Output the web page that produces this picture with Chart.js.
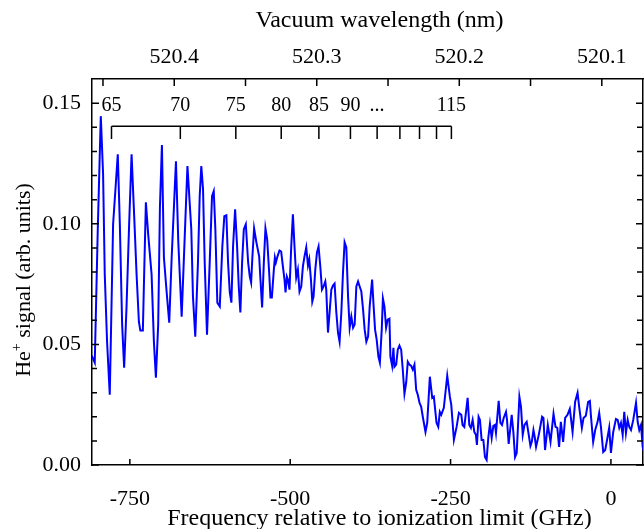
<!DOCTYPE html>
<html>
<head>
<meta charset="utf-8">
<script src="https://cdn.jsdelivr.net/npm/chart.js@4/dist/chart.umd.min.js"></script>
<style>
  html, body { margin: 0; padding: 0; background: #fff; }
  #wrap { width: 644px; height: 529px; position: relative; }
</style>
</head>
<body>
<div id="wrap"><canvas id="chart_heSignalSpectrum"></canvas></div>
<script>
// He+ signal vs frequency
const freqGHz = [
  -809.4, -804.7, -800.0, -795.3, -791.7, -789.1, -785.5, -781.3, -776.1, -771.9,
  -768.8, -765.6, -762.0, -758.9, -755.2, -751.1, -747.3, -743.8, -739.5, -735.9,
  -733.6, -729.7, -727.7, -725.0, -721.4, -716.1, -712.5, -709.4, -705.8, -703.1,
  -700.0, -696.9, -692.7, -688.6, -684.8, -681.3, -678.1, -674.5, -669.2, -663.0,
  -660.2, -654.2, -651.6, -648.0, -643.8, -641.1, -638.6, -635.9, -633.3, -629.7,
  -625.5, -621.9, -619.2, -616.7, -613.6, -609.8, -605.8, -602.7, -599.5, -596.9,
  -594.2, -591.7, -589.1, -585.9, -582.8, -580.2, -577.7, -575.0, -572.3, -569.2,
  -565.6, -563.0, -560.9, -558.9, -556.3, -552.7, -548.4, -546.4, -543.8, -541.1,
  -538.6, -535.9, -532.8, -530.8, -528.6, -525.5, -523.9, -522.3, -519.8, -516.7,
  -514.1, -511.4, -508.9, -507.3, -505.2, -503.6, -501.1, -498.4, -495.8, -493.3,
  -490.6, -488.0, -485.5, -482.8, -480.2, -477.7, -475.0, -472.3, -470.3, -467.7,
  -465.6, -463.6, -460.9, -458.3, -455.8, -453.1, -450.5, -448.0, -445.3, -443.8,
  -441.1, -438.6, -435.9, -433.3, -430.8, -428.1, -425.5, -423.0, -420.3, -417.7,
  -415.2, -412.5, -409.8, -407.3, -404.7, -402.0, -399.5, -396.9, -394.2, -391.7,
  -389.1, -386.4, -383.9, -381.3, -378.6, -376.1, -372.3, -370.3, -367.7, -365.2,
  -362.5, -360.2, -357.3, -355.5, -353.1, -350.5, -348.0, -345.3, -343.8, -341.1,
  -339.1, -337.5, -334.8, -332.3, -329.7, -327.0, -324.5, -321.9, -319.2, -316.7,
  -314.1, -311.4, -308.9, -306.3, -303.6, -301.1, -298.4, -295.8, -293.3, -289.1,
  -286.4, -282.3, -278.6, -276.1, -271.9, -269.2, -266.7, -264.5, -260.5, -255.2,
  -251.1, -248.9, -244.8, -240.6, -237.0, -233.3, -231.3, -228.6, -223.4, -220.8,
  -218.3, -215.6, -213.0, -210.5, -208.9, -206.3, -204.2, -201.6, -198.9, -196.4,
  -193.8, -191.1, -188.6, -185.9, -183.3, -180.8, -179.2, -175.0, -172.3, -169.8,
  -167.2, -163.6, -162.0, -159.4, -154.7, -152.0, -149.5, -146.9, -142.7, -140.2,
  -137.5, -134.8, -131.3, -128.6, -125.5, -123.4, -120.8, -118.8, -116.7, -112.5,
  -107.3, -105.2, -102.7, -98.4, -94.2, -89.5, -86.4, -83.6, -80.8, -78.1,
  -74.5, -71.4, -67.7, -64.1, -59.8, -55.8, -52.0, -49.5, -45.3, -42.7,
  -39.1, -35.5, -32.8, -31.3, -27.7, -24.5, -20.8, -18.3, -15.6, -12.0,
  -8.9, -5.2, -2.7, 0.0, 3.6, 7.8, 10.5, 13.0, 15.6, 18.3,
  20.8, 23.4, 26.1, 28.6, 31.3, 34.8, 39.1, 41.7, 44.2, 46.9,
  49.5, 52.0
];
const heSignal = [
  0.0453, 0.0424, 0.0977, 0.1446, 0.1205, 0.0790, 0.0511, 0.0291, 0.0998, 0.1164,
  0.1288, 0.0998, 0.0582, 0.0403, 0.0653, 0.0998, 0.1288, 0.1068, 0.0790, 0.0594,
  0.0557, 0.0557, 0.0790, 0.1089, 0.0956, 0.0790, 0.0511, 0.0362, 0.0582, 0.1068,
  0.1326, 0.0860, 0.0719, 0.0590, 0.0860, 0.1068, 0.1259, 0.0927, 0.0615, 0.1047,
  0.1239, 0.0977, 0.0698, 0.0532, 0.0840, 0.1114, 0.1239, 0.1143, 0.0840, 0.0540,
  0.0840, 0.1114, 0.1135, 0.0977, 0.0673, 0.0657, 0.0906, 0.1031, 0.1035, 0.0840,
  0.0715, 0.0673, 0.0906, 0.1060, 0.0906, 0.0740, 0.0632, 0.0840, 0.0977, 0.0998,
  0.0840, 0.0781, 0.0756, 0.0865, 0.0981, 0.0923, 0.0865, 0.0769, 0.0653, 0.0840,
  0.0981, 0.0935, 0.0798, 0.0694, 0.0694, 0.0810, 0.0860, 0.0840, 0.0865, 0.0889,
  0.0885, 0.0823, 0.0769, 0.0715, 0.0781, 0.0769, 0.0727, 0.0906, 0.1039, 0.0906,
  0.0777, 0.0810, 0.0719, 0.0740, 0.0823, 0.0865, 0.0902, 0.0827, 0.0852, 0.0769,
  0.0677, 0.0698, 0.0810, 0.0881, 0.0906, 0.0823, 0.0727, 0.0740, 0.0761, 0.0727,
  0.0549, 0.0632, 0.0727, 0.0744, 0.0752, 0.0632, 0.0549, 0.0511, 0.0632, 0.0798,
  0.0923, 0.0902, 0.0698, 0.0569, 0.0615, 0.0569, 0.0582, 0.0740, 0.0761, 0.0740,
  0.0719, 0.0644, 0.0561, 0.0511, 0.0532, 0.0657, 0.0769, 0.0673, 0.0561, 0.0520,
  0.0449, 0.0424, 0.0561, 0.0690, 0.0657, 0.0569, 0.0603, 0.0607, 0.0449, 0.0411,
  0.0486, 0.0407, 0.0416, 0.0478, 0.0495, 0.0478, 0.0395, 0.0295, 0.0341, 0.0428,
  0.0416, 0.0411, 0.0395, 0.0416, 0.0312, 0.0291, 0.0258, 0.0241, 0.0200, 0.0137,
  0.0175, 0.0366, 0.0278, 0.0283, 0.0175, 0.0158, 0.0220, 0.0208, 0.0237, 0.0370,
  0.0283, 0.0249, 0.0104, 0.0158, 0.0216, 0.0208, 0.0166, 0.0158, 0.0278, 0.0166,
  0.0154, 0.0187, 0.0137, 0.0125, 0.0083, 0.0200, 0.0187, 0.0104, 0.0104, 0.0033,
  0.0021, 0.0116, 0.0170, 0.0112, 0.0162, 0.0166, 0.0133, 0.0266, 0.0175, 0.0166,
  0.0195, 0.0220, 0.0187, 0.0087, 0.0208, 0.0133, 0.0033, 0.0050, 0.0283, 0.0241,
  0.0125, 0.0166, 0.0179, 0.0133, 0.0079, 0.0096, 0.0145, 0.0116, 0.0075, 0.0125,
  0.0200, 0.0195, 0.0062, 0.0166, 0.0096, 0.0212, 0.0158, 0.0154, 0.0075, 0.0179,
  0.0096, 0.0195, 0.0208, 0.0233, 0.0137, 0.0262, 0.0299, 0.0241, 0.0154, 0.0195,
  0.0204, 0.0262, 0.0266, 0.0208, 0.0096, 0.0145, 0.0179, 0.0216, 0.0158, 0.0054,
  0.0062, 0.0116, 0.0154, 0.0050, 0.0137, 0.0191, 0.0187, 0.0154, 0.0175, 0.0125,
  0.0220, 0.0133, 0.0187, 0.0158, 0.0145, 0.0187, 0.0258, 0.0179, 0.0145, 0.0166,
  0.0075, 0.0050
];

// axes
const freqTicks = [-750, -500, -250, 0];
const signalTicks = [0, 0.05, 0.10, 0.15];
const signalMinorTicks = [0.01, 0.02, 0.03, 0.04, 0.06, 0.07, 0.08, 0.09, 0.11, 0.12, 0.13, 0.14];
const wavelengthTicks = [520.4, 520.3, 520.2, 520.1];
const wavelengthMinorTicks = [520.45, 520.35, 520.25, 520.15];

// Rydberg n markers (frequency of each comb tooth, GHz)
const combFreq = [-778.6, -671.3, -584.8, -514.0, -455.3, -406.1, -364.5, -329.0, -298.4, -271.9, -248.7];
const combLabels = ['65', '70', '75', '80', '85', '90', '...', '', '', '', '115'];

const SERIF = '"Liberation Serif", "Times New Roman", serif';

var chart_heSignalSpectrum = new Chart(document.getElementById('chart_heSignalSpectrum'), {
    type: 'line',
    data: {
        datasets: [
            {
                label: 'He+ signal',
                data: freqGHz.map((f, i) => ({ x: f, y: heSignal[i] })),
                borderColor: '#0000ff',
                borderWidth: 2,
                pointRadius: 0,
                tension: 0,
                fill: false
            }
        ]
    },
    options: {
        animation: false,
        responsive: true,
        maintainAspectRatio: false,
        layout: { padding: 0 },
        plugins: {
            legend: { display: false },
            tooltip: { enabled: false }
        },
        scales: {
            x: {
                type: 'linear',
                position: 'bottom',
                min: -809,
                max: 50,
                afterBuildTicks: (s) => { s.ticks = freqTicks.map(v => ({ value: v })); },
                afterFit: (s) => { s.height = 64; },
                ticks: {
                    color: '#000',
                    padding: 13,
                    maxRotation: 0,
                    font: { family: SERIF, size: 22 },
                    callback: (v) => String(v)
                },
                grid: { display: false },
                border: { display: true, color: '#000', width: 1.5 }
            },
            xTop: {
                type: 'linear',
                position: 'top',
                reverse: true,
                min: 520.0711,
                max: 520.4577,
                afterBuildTicks: (s) => { s.ticks = wavelengthTicks.map(v => ({ value: v })); },
                afterFit: (s) => { s.height = 79; },
                ticks: {
                    color: '#000',
                    padding: 1,
                    maxRotation: 0,
                    font: { family: SERIF, size: 22 },
                    callback: (v) => v.toFixed(1)
                },
                grid: { display: false },
                border: { display: true, color: '#000', width: 1.5 }
            },
            y: {
                type: 'linear',
                position: 'left',
                min: 0,
                max: 0.16,
                afterBuildTicks: (s) => { s.ticks = signalTicks.map(v => ({ value: v })); },
                afterFit: (s) => { s.width = 92; },
                ticks: {
                    color: '#000',
                    padding: 3,
                    font: { family: SERIF, size: 22 },
                    callback: (v) => v.toFixed(2)
                },
                grid: { display: false },
                border: { display: true, color: '#000', width: 1.5 }
            },
            yRight: {
                type: 'linear',
                position: 'right',
                min: 0,
                max: 0.16,
                afterFit: (s) => { s.width = 1; },
                ticks: { display: false },
                grid: { display: false },
                border: { display: true, color: '#000', width: 1.5 }
            }
        }
    },
    plugins: [{
        id: 'customPlugin',
        beforeDraw: (chart) => {
            const ctx = chart.canvas.getContext('2d');
            ctx.save();
            ctx.globalCompositeOperation = 'destination-over';
            ctx.fillStyle = 'white';
            ctx.fillRect(0, 0, chart.canvas.width, chart.canvas.height);
            ctx.restore();
        },
        afterDraw: (chart) => {
            const ctx = chart.ctx;
            const { left, right, top, bottom } = chart.chartArea;
            const sx = chart.scales.x, sy = chart.scales.y, st = chart.scales.xTop;
            ctx.save();
            ctx.strokeStyle = '#000';
            ctx.lineWidth = 1.5;

            // inward tick marks on all four sides
            ctx.beginPath();
            freqTicks.forEach(v => {
                const px = sx.getPixelForValue(v);
                ctx.moveTo(px, bottom); ctx.lineTo(px, bottom - 6);
            });
            signalTicks.forEach(v => {
                const py = sy.getPixelForValue(v);
                ctx.moveTo(left, py); ctx.lineTo(left + 7, py);
                ctx.moveTo(right, py); ctx.lineTo(right - 7, py);
            });
            signalMinorTicks.forEach(v => {
                const py = sy.getPixelForValue(v);
                ctx.moveTo(left, py); ctx.lineTo(left + 5, py);
                ctx.moveTo(right, py); ctx.lineTo(right - 6, py);
            });
            wavelengthTicks.concat(wavelengthMinorTicks).forEach(v => {
                const px = st.getPixelForValue(v);
                ctx.moveTo(px, top); ctx.lineTo(px, top + 7);
            });
            ctx.stroke();

            // Rydberg comb
            const yLine = sy.getPixelForValue(0.1404);
            const yTooth = sy.getPixelForValue(0.1351);
            const yText = sy.getPixelForValue(0.1490);
            ctx.beginPath();
            ctx.moveTo(sx.getPixelForValue(combFreq[0]), yLine);
            ctx.lineTo(sx.getPixelForValue(combFreq[combFreq.length - 1]), yLine);
            combFreq.forEach(f => {
                const px = sx.getPixelForValue(f);
                ctx.moveTo(px, yLine); ctx.lineTo(px, yTooth);
            });
            ctx.stroke();
            ctx.fillStyle = '#000';
            ctx.font = '20px ' + SERIF;
            ctx.textAlign = 'center';
            ctx.textBaseline = 'middle';
            combLabels.forEach((t, i) => {
                if (t) ctx.fillText(t, sx.getPixelForValue(combFreq[i]), yText);
            });

            // axis titles
            ctx.font = '24px ' + SERIF;
            const midX = (left + right) / 2 + 12;
            ctx.fillText('Frequency relative to ionization limit (GHz)', midX, chart.height - 10);
            ctx.fillText('Vacuum wavelength (nm)', midX, 21);

            // rotated y title with superscript +
            const t1 = 'He', t2 = '+', t3 = ' signal (arb. units)';
            ctx.translate(24, (top + bottom) / 2 + 8);
            ctx.rotate(-Math.PI / 2);
            ctx.textAlign = 'left';
            ctx.font = '22px ' + SERIF;
            const w1 = ctx.measureText(t1).width;
            const w3 = ctx.measureText(t3).width;
            ctx.font = '14px ' + SERIF;
            const w2 = ctx.measureText(t2).width;
            const x0 = -(w1 + w2 + w3) / 2;
            ctx.font = '22px ' + SERIF;
            ctx.fillText(t1, x0, 0);
            ctx.fillText(t3, x0 + w1 + w2, 0);
            ctx.font = '14px ' + SERIF;
            ctx.fillText(t2, x0 + w1, -7);
            ctx.restore();
        }
    }]
});
</script>
</body>
</html>
